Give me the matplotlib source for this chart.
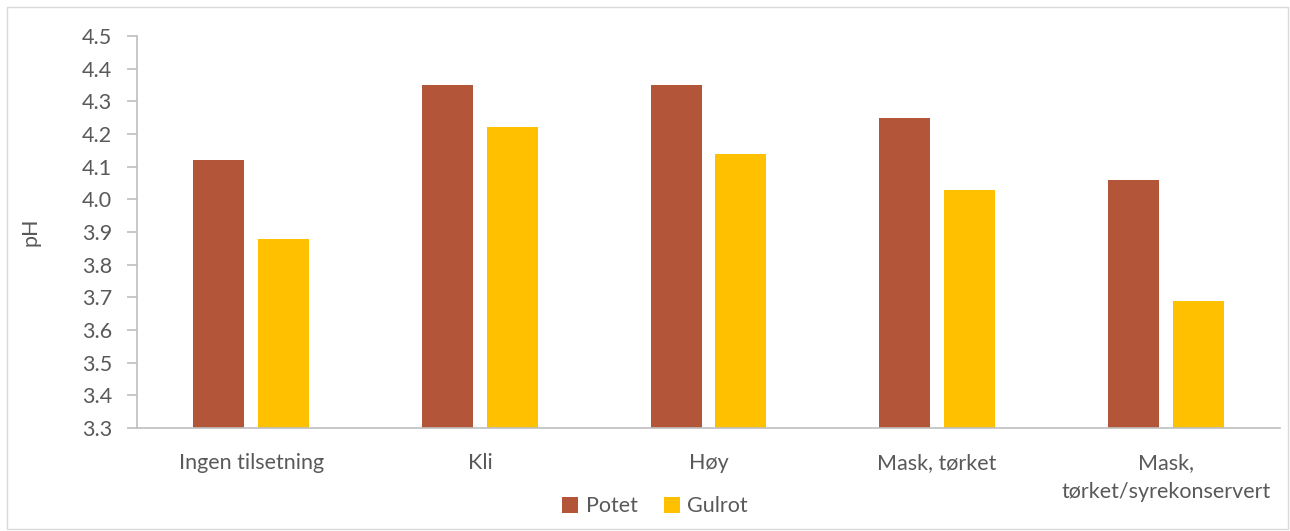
import matplotlib
matplotlib.use("Agg")
import matplotlib.pyplot as plt
import numpy as np
from matplotlib.patches import Rectangle

categories = ["Ingen tilsetning", "Kli", "Høy", "Mask, tørket", "Mask,\ntørket/syrekonservert"]
potet = [4.12, 4.35, 4.35, 4.25, 4.06]
gulrot = [3.88, 4.22, 4.14, 4.03, 3.69]
yticks = [3.3, 3.4, 3.5, 3.6, 3.7, 3.8, 3.9, 4.0, 4.1, 4.2, 4.3, 4.4, 4.5]

plt.rcParams['font.family'] = ['Lato', 'DejaVu Sans']
txt = '#595959'
axis_c = '#BFBFBF'
fs = 15.5

fig = plt.figure(figsize=(12.9, 5.31), dpi=100)
fig.patches.append(Rectangle((7/1290, 2/531), 1281/1290, 522/531, transform=fig.transFigure,
                             fill=False, edgecolor='#D9D9D9', linewidth=1.0))
ax = fig.add_axes([137/1290, 1 - 428/531, 1143/1290, 392/531])

x = np.arange(len(categories))
w = 0.223
off = 0.142
ax.bar(x - off, np.array(potet) - 3.3, w, bottom=3.3, color='#B25538', label='Potet')
ax.bar(x + off, np.array(gulrot) - 3.3, w, bottom=3.3, color='#FFC000', label='Gulrot')

ax.set_xlim(-0.5, len(categories) - 0.5)
ax.set_ylim(3.3, 4.5)
ax.set_yticks(yticks)
ax.set_yticklabels([f"{v:.1f}" for v in yticks])
ax.set_xticks(x)
ax.set_xticklabels(categories, linespacing=1.55)
for s in ['top', 'right']:
    ax.spines[s].set_visible(False)
for s in ['left', 'bottom']:
    ax.spines[s].set_color(axis_c)
    ax.spines[s].set_linewidth(1.2)
ax.tick_params(axis='y', colors=axis_c, labelcolor=txt, labelsize=fs, length=7, width=1.2, pad=11)
ax.tick_params(axis='x', length=0, labelcolor=txt, labelsize=fs, pad=18)
ax.set_ylabel('pH', color=txt, fontsize=fs, labelpad=30)

ax.legend(loc='upper center', bbox_to_anchor=(518/1143, -0.125), ncol=2, frameon=False,
          fontsize=fs, labelcolor=txt, handlelength=0.75, handleheight=0.75,
          handletextpad=0.35, columnspacing=1.2)

fig.savefig('out.png', dpi=100)
